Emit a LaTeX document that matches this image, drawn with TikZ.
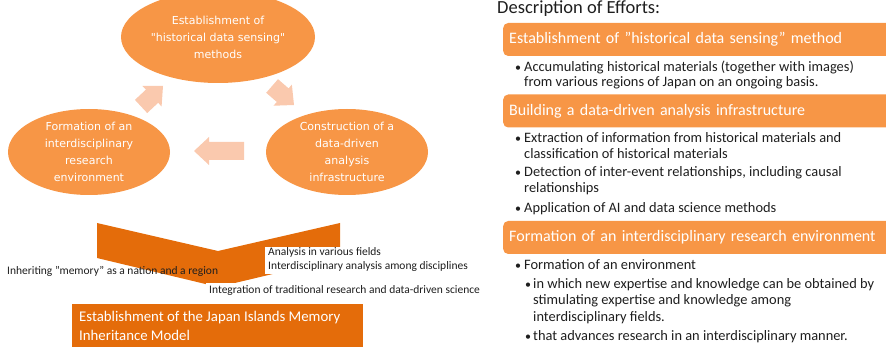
\documentclass[tikz,border=0pt]{standalone}
\usepackage{fontspec}
\setmainfont{Carlito}
\newfontfamily\ellfont{DejaVu Sans}
\usetikzlibrary{shapes.geometric}
\definecolor{orangeA}{HTML}{F79646}
\definecolor{orangeD}{HTML}{E46C0A}
\definecolor{peach}{HTML}{FAC9AE}
\definecolor{ink}{HTML}{1E1E1E}
\begin{document}
\begin{tikzpicture}[x=1pt,y=-1pt,
  cyclestep/.style={ellipse, fill=orangeA, text=white, inner sep=0pt,
    align=center, font=\ellfont\fontsize{11}{17}\selectfont},
  pics/blockarrow/.style={code={
    \fill[peach] (0,0) -- (-15,14) -- (-15,9) -- (-#1,9) -- (-#1,-9)
      -- (-15,-9) -- (-15,-14) -- cycle;}},
  label/.style={anchor=base west, inner sep=0pt, text=ink,
    font=\fontsize{11.5}{14}\selectfont},
  cover/.style={fill=white, anchor=north west, inner sep=0pt},
  header/.style={anchor=west, fill=orangeA, rounded corners=5pt, text=white,
    minimum height=33, text width=420, inner xsep=6, inner ysep=0pt,
    align=left, font=\fontsize{16}{19}\selectfont},
  bullet/.style={anchor=base west, inner sep=0pt, text=ink,
    font=\fontsize{14.4}{16}\selectfont},
  dot/.style={bullet, font=\fontsize{12}{14}\selectfont},
  modeltext/.style={anchor=base west, inner sep=0pt, text=white,
    font=\fontsize{14.8}{17}\selectfont},
]
\clip (0,0) rectangle (886,347);

% cycle of three activities
\node[cyclestep, minimum width=194, minimum height=92] (sensing) at (218,37)
  {Establishment of\\"historical data sensing"\\methods};
\node[cyclestep, minimum width=162, minimum height=86] (infra) at (347,152)
  {Construction of a\\data-driven\\analysis\\infrastructure};
\node[cyclestep, minimum width=162, minimum height=86] (env) at (89,152)
  {Formation of an\\interdisciplinary\\research\\environment};

% block arrows between the activities
\pic[rotate=43] at (163,86) {blockarrow=30};
\pic[rotate=-41] at (294,105) {blockarrow=29};
\pic[rotate=180] at (194,151) {blockarrow=50};

% chevron leading to the outcome
\fill[orangeD] (97,223) -- (218,251) -- (340,223) -- (340,258)
  -- (218,287) -- (97,258) -- cycle;

\node[label] (inherit) at (7,274.5) {Inheriting "memory" as a nation and a region};
\node[cover, minimum width=220, minimum height=27] (fieldsbg) at (265,247) {};
\node[label] (fieldsA) at (268,255.5) {Analysis in various fields};
\node[label] (fieldsB) at (268,269.5) {Interdisciplinary analysis among disciplines};
\node[cover, minimum width=282, minimum height=16] (integrbg) at (206,283) {};
\node[label] (integr) at (209,293.5)
  {Integration of traditional research and data-driven science};

% outcome box
\node[fill=orangeD, anchor=north west, minimum width=291, minimum height=50,
  inner sep=0pt] (model) at (72,304) {};
\node[modeltext] (modelA) at (79,322) {Establishment of the Japan Islands Memory};
\node[modeltext] (modelB) at (79,340) {Inheritance Model};

% description of efforts
\node[anchor=base west, inner sep=0pt, text=ink,
  font=\fontsize{18.5}{22}\selectfont] (desc) at (497,13.5) {Description of Efforts:};

\node[header] (h1) at (503,39.5) {Establishment of "historical data sensing" method};
\node[dot] (d1) at (515,72) {\textbullet};
\node[bullet] (t1a) at (524,72) {Accumulating historical materials (together with images)};
\node[bullet] (t1b) at (524,87) {from various regions of Japan on an ongoing basis.};

\node[header] (h2) at (503,111) {Building a data-driven analysis infrastructure};
\node[dot] (d2) at (515,142.5) {\textbullet};
\node[bullet] (t2a) at (524,142.5) {Extraction of information from historical materials and};
\node[bullet] (t2b) at (524,158.5) {classification of historical materials};
\node[dot] (d3) at (515,177) {\textbullet};
\node[bullet] (t3a) at (524,177) {Detection of inter-event relationships, including causal};
\node[bullet] (t3b) at (524,193) {relationships};
\node[dot] (d4) at (515,213) {\textbullet};
\node[bullet] (t4a) at (524,213) {Application of AI and data science methods};

\node[header] (h3) at (503,237.5) {Formation of an interdisciplinary research environment};
\node[dot] (d5) at (515,269.5) {\textbullet};
\node[bullet] (t5a) at (524,269.5) {Formation of an environment};
\node[dot] (d6) at (525,289) {\textbullet};
\node[bullet] (t6a) at (533,289) {in which new expertise and knowledge can be obtained by};
\node[bullet] (t6b) at (533,305) {stimulating expertise and knowledge among};
\node[bullet] (t6c) at (533,321) {interdisciplinary fields.};
\node[dot] (d7) at (525,340.5) {\textbullet};
\node[bullet] (t7a) at (533,340.5) {that advances research in an interdisciplinary manner.};
\end{tikzpicture}
\end{document}
